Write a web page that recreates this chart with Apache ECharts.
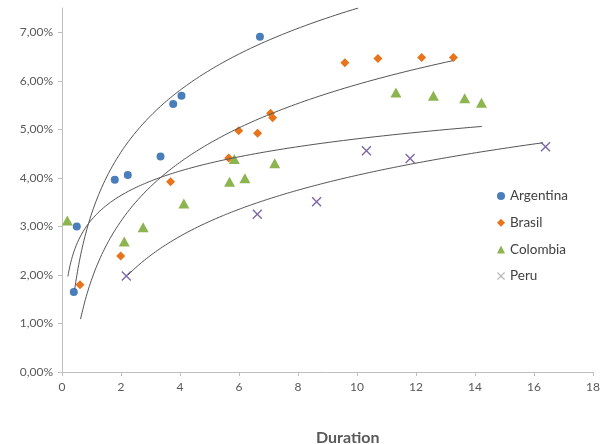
<!DOCTYPE html>
<html>
<head>
<meta charset="utf-8">
<script src="https://cdn.jsdelivr.net/npm/echarts@6/dist/echarts.min.js"></script>
<style>html,body{margin:0;padding:0;background:#fff}#c{width:613px;height:444px}</style>
</head>
<body>
<div id="c"></div>
<script>
// Series values (x = duration, y = percent)
const argX = [0.40, 0.50, 1.79, 2.23, 3.34, 3.77, 4.05, 6.71];
const argY = [1.65, 3.00, 3.96, 4.06, 4.44, 5.52, 5.69, 6.91];
const braX = [0.61, 1.99, 3.68, 5.65, 5.99, 6.63, 7.07, 7.14, 9.59, 10.71, 12.19, 13.27];
const braY = [1.80, 2.39, 3.92, 4.41, 4.97, 4.92, 5.33, 5.24, 6.37, 6.46, 6.48, 6.48];
const colX = [0.18, 2.11, 2.75, 4.13, 5.68, 5.84, 6.20, 7.21, 11.32, 12.59, 13.65, 14.22];
const colY = [3.12, 2.69, 2.98, 3.47, 3.92, 4.39, 3.99, 4.30, 5.76, 5.69, 5.64, 5.55];
const peruX = [2.18, 6.62, 8.63, 10.32, 11.80, 16.39];
const peruY = [1.98, 3.25, 3.51, 4.56, 4.40, 4.64];
const seriesNames = ['Argentina', 'Brasil', 'Colombia', 'Peru'];
// Logarithmic trendlines y = a*ln(x) + b, with x start/end
const trendA = [1.84, 1.748, 0.7245, 1.372];
const trendB = [3.255, 1.898, 3.136, 0.894];
const trendStart = [0.43, 0.63, 0.20, 2.24];
const trendEnd = [10.04, 13.25, 14.23, 16.30];
// Axis ticks
const xTicks = [0, 2, 4, 6, 8, 10, 12, 14, 16, 18];
const yTicks = [0, 1, 2, 3, 4, 5, 6, 7];

const xsAll = [argX, braX, colX, peruX];
const ysAll = [argY, braY, colY, peruY];
const colors = ['#4A7EBB', '#E8731A', '#8DB54F', '#7E69A8'];
const legendColors = ['#4A7EBB', '#E8731A', '#8DB54F', '#B4B4B4'];
const symbols = ['circle', 'diamond', 'triangle',
  'path://M0,1L1,0L5,4L9,0L10,1L6,5L10,9L9,10L5,6L1,10L0,9L4,5Z'];
const sizes = [8, 9, [11, 10], 10];

function pairs(xs, ys) { return xs.map((x, i) => [x, ys[i]]); }
function trend(k) {
  const pts = [];
  const n = 160;
  const l0 = Math.log(trendStart[k]), l1 = Math.log(trendEnd[k]);
  for (let i = 0; i <= n; i++) {
    const x = Math.exp(l0 + (l1 - l0) * i / n);
    pts.push([x, trendA[k] * Math.log(x) + trendB[k]]);
  }
  return pts;
}

const FONT = 'Lato';
const series = [];
seriesNames.forEach((name, k) => {
  series.push({
    name: name, type: 'scatter', data: pairs(xsAll[k], ysAll[k]),
    symbol: symbols[k], symbolSize: sizes[k],
    itemStyle: { color: colors[k], opacity: 1 }, z: 2
  });
});
seriesNames.forEach((name, k) => {
  series.push({
    name: name + ' trend', type: 'line', data: trend(k), showSymbol: false,
    symbol: 'none', smooth: false, clip: true, silent: true,
    lineStyle: { color: '#555555', width: 1 }, z: 3
  });
});

const chart = echarts.init(document.getElementById('c'), null, { renderer: 'canvas' });
chart.setOption({
  animation: false,
  backgroundColor: '#ffffff',
  grid: { left: 62, right: 20, top: 8, bottom: 72, containLabel: false },
  xAxis: {
    type: 'value', min: xTicks[0], max: xTicks[xTicks.length - 1], interval: 2,
    axisLine: { show: true, lineStyle: { color: '#BFBFBF', width: 1 } },
    axisTick: { show: true, inside: false, length: 4, lineStyle: { color: '#BFBFBF' } },
    splitLine: { show: false },
    axisLabel: { color: '#595959', fontFamily: FONT, fontSize: 12, margin: 9 }
  },
  yAxis: {
    type: 'value', min: yTicks[0], max: 7.5, interval: 1,
    axisLine: { show: true, lineStyle: { color: '#BFBFBF', width: 1 } },
    axisTick: { show: true, inside: false, length: 4, lineStyle: { color: '#BFBFBF' } },
    splitLine: { show: false },
    axisLabel: {
      color: '#595959', fontFamily: FONT, fontSize: 12, margin: 9, showMaxLabel: false,
      formatter: v => (Number.isInteger(v) ? v.toFixed(2).replace('.', ',') + '%' : '')
    }
  },
  title: {
    text: 'Duration', left: 311, top: 425,
    textStyle: { color: '#595959', fontFamily: FONT, fontSize: 16, fontWeight: 'bold' }
  },
  legend: {
    data: seriesNames.map((n, k) => ({ name: n, icon: symbols[k], itemStyle: { color: legendColors[k] } })),
    orient: 'vertical', left: 492, top: 184, itemWidth: 8, itemHeight: 8, itemGap: 12.7,
    textStyle: { color: '#404040', fontFamily: FONT, fontSize: 13.5 }
  },
  series: series
});
</script>
</body>
</html>
